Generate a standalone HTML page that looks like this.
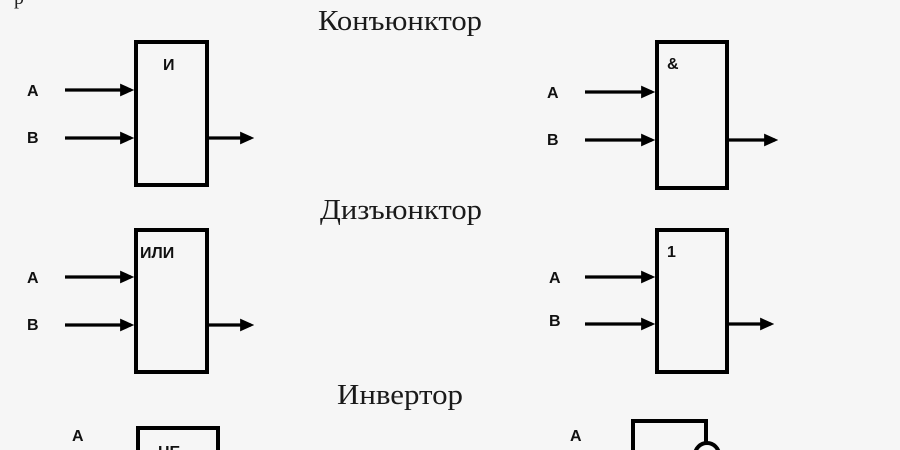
<!DOCTYPE html>
<html><head><meta charset="utf-8"><style>
html,body{margin:0;padding:0;background:#f6f6f6;}
svg{display:block}
.t{font-family:"Liberation Serif","Noto Serif CJK SC",serif;font-size:28px;fill:#1a1a1a}
.l{font-family:"Liberation Sans",sans-serif;font-weight:bold;font-size:16px;fill:#111}
</style></head><body>
<svg width="900" height="450" viewBox="0 0 900 450" xmlns="http://www.w3.org/2000/svg">
<defs><marker id="a" markerWidth="4.4" markerHeight="4" refX="3.4" refY="2" orient="auto" markerUnits="strokeWidth"><path d="M0,0 L4.4,2 L0,4 z" fill="#000"/></marker></defs>
<g stroke="#000" stroke-width="4" fill="none">
<rect x="136" y="42" width="71" height="143"/>
<rect x="657" y="42" width="70" height="146"/>
<rect x="136" y="230" width="71" height="142"/>
<rect x="657" y="230" width="70" height="142"/>
<path d="M138,450 V428 H218 V450"/>
<path d="M633,450 V421 H706 V442"/>
<circle cx="707" cy="455" r="12"/>
<g stroke-width="3.2">
<line x1="65" y1="90" x2="131" y2="90" marker-end="url(#a)"/>
<line x1="65" y1="138" x2="131" y2="138" marker-end="url(#a)"/>
<line x1="208" y1="138" x2="251" y2="138" marker-end="url(#a)"/>
<line x1="585" y1="92" x2="652" y2="92" marker-end="url(#a)"/>
<line x1="585" y1="140" x2="652" y2="140" marker-end="url(#a)"/>
<line x1="728" y1="140" x2="775" y2="140" marker-end="url(#a)"/>
<line x1="65" y1="277" x2="131" y2="277" marker-end="url(#a)"/>
<line x1="65" y1="325" x2="131" y2="325" marker-end="url(#a)"/>
<line x1="208" y1="325" x2="251" y2="325" marker-end="url(#a)"/>
<line x1="585" y1="277" x2="652" y2="277" marker-end="url(#a)"/>
<line x1="585" y1="324" x2="652" y2="324" marker-end="url(#a)"/>
<line x1="728" y1="324" x2="771" y2="324" marker-end="url(#a)"/>
</g></g>
<text class="t" x="318" y="30" textLength="164" lengthAdjust="spacingAndGlyphs">Конъюнктор</text>
<text class="t" x="320" y="219" textLength="162" lengthAdjust="spacingAndGlyphs">Дизъюнктор</text>
<text class="t" x="337" y="404" textLength="126" lengthAdjust="spacingAndGlyphs">Инвертор</text>
<text class="l" x="27" y="96">A</text><text class="l" x="27" y="143">B</text>
<text class="l" x="163" y="70">И</text>
<text class="l" x="547" y="98">A</text><text class="l" x="547" y="145">B</text>
<text class="l" x="667" y="69">&amp;</text>
<text class="l" x="27" y="283">A</text><text class="l" x="27" y="330">B</text>
<text class="l" x="140" y="258">ИЛИ</text>
<text class="l" x="549" y="283">A</text><text class="l" x="549" y="326">B</text>
<text class="l" x="667" y="257">1</text>
<text class="l" x="72" y="441" font-size="18">A</text>
<text class="l" x="570" y="441" font-size="18">A</text>
<text class="l" x="158" y="457" font-size="18">НЕ</text>
<text x="14" y="4" font-family="Liberation Serif" font-size="20" fill="#222">р</text>
</svg>
</body></html>
